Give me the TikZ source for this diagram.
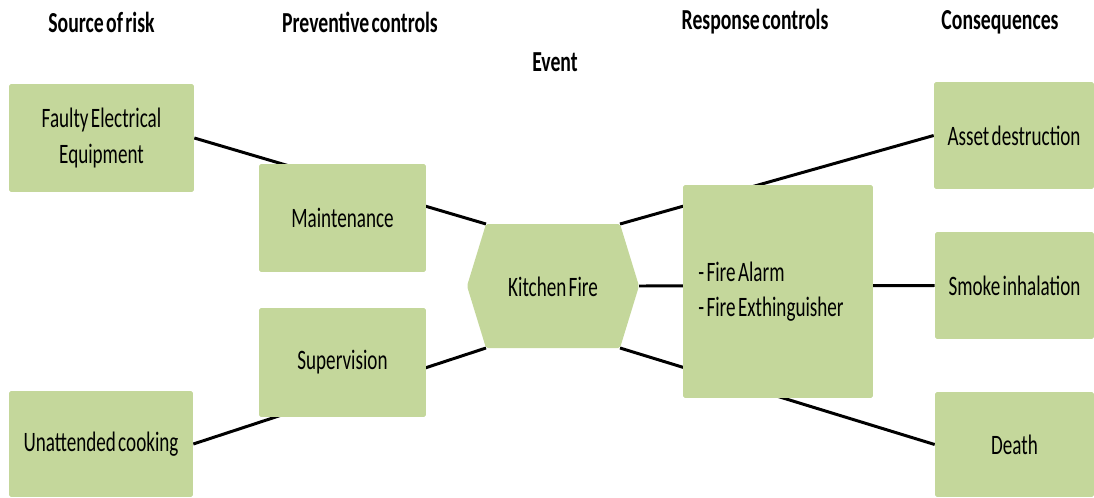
\documentclass[tikz,border=0pt]{standalone}
\usepackage{fontspec}
\setmainfont{Carlito}[FakeStretch=0.68, WordSpace=0.55]
\usepackage{xcolor}
\usepackage{tikz}
\usetikzlibrary{positioning, backgrounds}
\definecolor{boxgreen}{RGB}{196,215,155}
\tikzset{
	line width = 1.7pt,
	font = \fontsize{16}{20}\selectfont,
	block/.style={
		fill=boxgreen,
		rounded corners=1pt,
		inner sep=0pt,
		align=center
	},
	heading/.style={
		font=\fontsize{16.5}{20}\selectfont\bfseries
	},
	link/.style={
		draw,
		line width=1.7pt
	}
}

\begin{document}
\begin{tikzpicture}[x=0.02cm, y=-0.02cm]
		\useasboundingbox (0,0) rectangle (1094,497);
		% headings
		\node[heading] (src) at (101.5,22) {Source of risk};
		\node[heading] (prev) at (360,22) {Preventive controls};
		\node[heading] (resph) at (755,22) {Response controls};
		\node[heading] (cons) at (1000,22) {Consequences};
		\node[heading] (event) at (555,62) {Event};
		% sources and preventive controls
		\node[block, minimum width=3.70cm, minimum height=2.16cm] (fee) at (101.5,138) {Faulty Electrical\\Equipment};
		\node[block, minimum width=3.68cm, minimum height=2.12cm] (unatt) at (101,444) {Unattended cooking};
		\node[block, minimum width=3.34cm, minimum height=2.16cm] (maint) at (342.5,218) {Maintenance};
		\node[block, minimum width=3.34cm, minimum height=2.18cm] (superv) at (342.5,362.5) {Supervision};
		% event
		\coordinate (hexw) at (467,286);
		\coordinate (hexnw) at (486,224);
		\coordinate (hexne) at (620,224);
		\coordinate (hexe) at (639,286);
		\coordinate (hexse) at (620,348);
		\coordinate (hexsw) at (486,348);
		\fill[boxgreen, rounded corners=1pt] (hexw) -- (hexnw) -- (hexne) -- (hexe) -- (hexse) -- (hexsw) -- cycle;
		\node (fire) at (553,287) {Kitchen Fire};
		% response controls and consequences
		\node[block, align=left, minimum width=3.80cm, minimum height=4.26cm] (resp) at (778,291.5) {- Fire Alarm\\- Fire Exthinguisher\hspace*{0.28cm}};
		\node[block, minimum width=3.20cm, minimum height=2.14cm] (asset) at (1014,135.5) {Asset destruction};
		\node[block, minimum width=3.18cm, minimum height=2.14cm] (smoke) at (1014.5,285.5) {Smoke inhalation};
		\node[block, minimum width=3.18cm, minimum height=2.10cm] (death) at (1014.5,444.5) {Death};
		\begin{pgfonlayer}{background}
			\draw[link] (fee.east) -- (hexnw);
			\draw[link] (unatt.east) -- (hexsw);
			\draw[link] (hexne) -- (asset.west);
			\draw[link] (hexe) -- (smoke.west);
			\draw[link] (hexse) -- (death.west);
		\end{pgfonlayer}
	\end{tikzpicture}
\end{document}
